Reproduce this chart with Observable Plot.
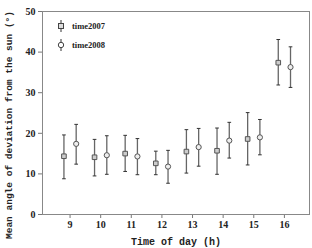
<!DOCTYPE html>
<html><head><meta charset="utf-8">
<script src="https://cdn.jsdelivr.net/npm/d3@7"></script>
<script src="https://cdn.jsdelivr.net/npm/@observablehq/plot@0.6"></script>
<style>
body{margin:0;background:#fff;}
#wrap{position:relative;width:312px;height:248px;}
#legend{position:absolute;left:54px;top:16px;font-family:"Liberation Serif",serif;font-weight:bold;font-size:8.5px;color:#222;}
.item{display:flex;align-items:center;height:19px;}
.item svg{margin-right:4px;}
</style>
</head><body>
<div id="wrap"><div id="chart"></div>
<div id="legend">
<div class="item"><svg width="14" height="14"><line x1="7" y1="1" x2="7" y2="13" stroke="#333" stroke-width="1"/><rect x="4.5" y="4.5" width="5" height="5" fill="#ddd" stroke="#444"/></svg>time2007</div>
<div class="item"><svg width="14" height="14"><line x1="7" y1="1" x2="7" y2="13" stroke="#333" stroke-width="1"/><circle cx="7" cy="7" r="2.7" fill="#fff" stroke="#444"/></svg>time2008</div>
</div></div>
<script>
const hours = [9, 10, 11, 12, 13, 14, 15, 16];
const mean2007 = [14.35, 14.1, 15.0, 12.6, 15.5, 15.7, 18.6, 37.4];
const upper2007 = [19.6, 18.5, 19.5, 15.6, 20.9, 21.3, 25.1, 43.1];
const lower2007 = [8.8, 9.5, 10.6, 9.8, 10.2, 9.9, 12.2, 31.9];
const mean2008 = [17.4, 14.6, 14.3, 11.8, 16.6, 18.2, 19.0, 36.3];
const upper2008 = [22.2, 19.4, 18.7, 15.8, 21.2, 22.7, 23.4, 41.3];
const lower2008 = [12.4, 9.9, 9.8, 7.7, 11.9, 13.9, 14.7, 31.3];
const yTicks = [0, 10, 20, 30, 40, 50];
const xLabel = "Time of day (h)";
const yLabel = "Mean angle of deviation from the sun (\u00b0)";
const offset = 0.2;

const rows = [];
hours.forEach((h, i) => {
  rows.push({series: "time2007", x: h - offset, m: mean2007[i], lo: lower2007[i], hi: upper2007[i]});
  rows.push({series: "time2008", x: h + offset, m: mean2008[i], lo: lower2008[i], hi: upper2008[i]});
});
const s07 = rows.filter(d => d.series === "time2007");
const s08 = rows.filter(d => d.series === "time2008");
const capW = 0.06;

const chart = Plot.plot({
  width: 312, height: 248,
  marginLeft: 42, marginRight: 3, marginTop: 11, marginBottom: 34,
  style: {fontFamily: "Liberation Serif, serif", fontSize: "10px", fontWeight: "bold", color: "#222", background: "#fff"},
  x: {domain: [8.1, 16.82]},
  y: {domain: [0, 50]},
  marks: [
    Plot.axisX({ticks: hours, tickSize: 4, tickPadding: 2, stroke: "#777", fill: "#222", label: null, tickFormat: d => String(d)}),
    Plot.axisY({ticks: yTicks, tickSize: 4, tickPadding: 3, stroke: "#777", fill: "#222", label: null}),
    Plot.frame({stroke: "#888"}),
    Plot.link(rows, {x1: "x", x2: "x", y1: "lo", y2: "hi", stroke: "#666", strokeWidth: 1.3}),
    Plot.link(rows, {x1: d => d.x - capW, x2: d => d.x + capW, y1: "hi", y2: "hi", stroke: "#333", strokeWidth: 1}),
    Plot.link(rows, {x1: d => d.x - capW, x2: d => d.x + capW, y1: "lo", y2: "lo", stroke: "#333", strokeWidth: 1}),
    Plot.dot(s07, {x: "x", y: "m", symbol: "square", r: 2.6, fill: "#ccc", stroke: "#555", strokeWidth: 1}),
    Plot.dot(s08, {x: "x", y: "m", symbol: "circle", r: 2.6, fill: "#eee", stroke: "#555", strokeWidth: 1}),
    Plot.text([xLabel], {frameAnchor: "bottom", textAnchor: "middle", dy: 30, fontFamily: "Liberation Mono, monospace", fontSize: 10, fontWeight: "bold", fill: "#222"}),
    Plot.text([yLabel], {frameAnchor: "left", textAnchor: "middle", dx: -34, dy: 12, rotate: -90, fontFamily: "Liberation Mono, monospace", fontSize: 9.5, fontWeight: "bold", fill: "#222"})
  ]
});
document.getElementById("chart").appendChild(chart);
</script>
</body></html>
